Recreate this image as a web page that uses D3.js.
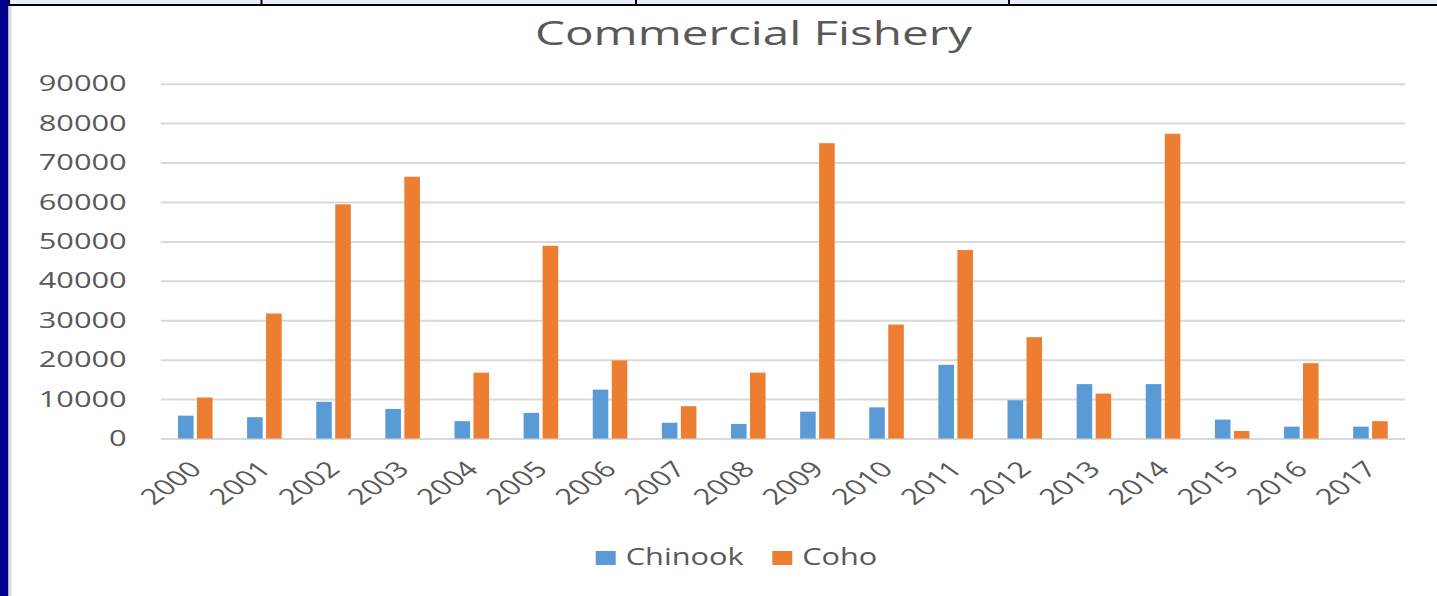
<!DOCTYPE html>
<html>
<head>
<meta charset="utf-8">
<script src="https://cdn.jsdelivr.net/npm/d3@7"></script>
<style>
  body { margin: 0; background: #fff; }
  text { font-family: "Open Sans", "Noto Sans", sans-serif; fill: #595959; }
</style>
</head>
<body>
<div id="chart"></div>
<script>
// data
var years = ["2000", "2001", "2002", "2003", "2004", "2005", "2006", "2007", "2008",
  "2009", "2010", "2011", "2012", "2013", "2014", "2015", "2016", "2017"];
var chinook = [5800, 5400, 9300, 7500, 4400, 6500, 12400, 4000, 3700,
  6800, 7900, 18700, 9700, 13800, 13800, 4800, 3000, 3000];
var coho = [10400, 31700, 59400, 66400, 16700, 48900, 19800, 8200, 16700,
  74900, 28900, 47800, 25700, 11400, 77300, 1900, 19100, 4400];
var seriesNames = ["Chinook", "Coho"];
var yTicks = [0, 10000, 20000, 30000, 40000, 50000, 60000, 70000, 80000, 90000];

var colors = { Chinook: "#5b9bd5", Coho: "#ed7d31" };
var S = 1.4; // the picture is stretched sideways, so text gets stretched too

var W = 1437, H = 596;
var margin = { top: 83.7, right: 32, bottom: 157.5, left: 160.7 };
var width = W - margin.left - margin.right,
  height = H - margin.top - margin.bottom;

var svg = d3.select("#chart")
  .append("svg")
  .attr("width", W)
  .attr("height", H);

// frame bits: blue border on the left, table strip on top
svg.append("rect").attr("x", 0).attr("y", 0).attr("width", W).attr("height", 5).attr("fill", "#e9edf5");
svg.append("rect").attr("x", 8).attr("y", 4).attr("width", W - 8).attr("height", 2).attr("fill", "#000");
[261.5, 636, 1009].forEach(function (x) {
  svg.append("rect").attr("x", x - 1).attr("y", 0).attr("width", 2).attr("height", 5).attr("fill", "#000");
});
svg.append("rect").attr("x", 8).attr("y", 0).attr("width", 2).attr("height", 6).attr("fill", "#000");
svg.append("rect").attr("x", 0).attr("y", 0).attr("width", 8.5).attr("height", H).attr("fill", "#00008b");
svg.append("rect").attr("x", 8.5).attr("y", 6).attr("width", 3).attr("height", H - 6).attr("fill", "#dcdcdc");

// title
svg.append("text")
  .attr("x", 753.5)
  .attr("y", 45)
  .attr("text-anchor", "middle")
  .attr("textLength", 437)
  .attr("lengthAdjust", "spacingAndGlyphs")
  .style("font-size", "32px")
  .text("Commercial Fishery");

var g = svg.append("g")
  .attr("transform", "translate(" + margin.left + "," + margin.top + ")");

// scales
var x = d3.scaleBand()
  .domain(years)
  .range([0, width])
  .padding(0);

var x1 = d3.scaleBand()
  .domain(seriesNames)
  .range([x.bandwidth() * 0.25, x.bandwidth() * 0.75])
  .paddingInner(0.18);

var y = d3.scaleLinear()
  .domain([0, 90000])
  .range([height, 0]);

// y axis with gridlines
var yAxis = g.append("g")
  .call(d3.axisLeft(y).tickValues(yTicks).tickSize(-width).tickFormat(d3.format("d")));
yAxis.select(".domain").remove();
yAxis.selectAll("line").attr("stroke", "#d9d9d9").attr("stroke-width", 2);
yAxis.selectAll("text")
  .attr("x", -34 / S)
  .attr("transform", "scale(" + S + ",1)")
  .style("font-size", "22px")
  .style("fill", "#595959");

// x axis, rotated labels
var xAxis = g.append("g")
  .attr("transform", "translate(0," + height + ")")
  .call(d3.axisBottom(x).tickSize(0));
xAxis.select(".domain").remove();
xAxis.selectAll("text")
  .attr("x", 0)
  .attr("y", 0)
  .attr("dy", 0)
  .attr("text-anchor", "end")
  .attr("transform", "translate(8,32) scale(" + S + ",1) rotate(-45)")
  .style("font-size", "22px")
  .style("fill", "#595959");

// bars
var rows = years.map(function (yr, i) {
  return { year: yr, Chinook: chinook[i], Coho: coho[i] };
});

var groups = g.selectAll(".yr")
  .data(rows)
  .enter()
  .append("g")
  .attr("class", "yr")
  .attr("transform", function (d) { return "translate(" + x(d.year) + ",0)" });

groups.selectAll("rect")
  .data(function (d) { return seriesNames.map(function (k) { return { key: k, value: d[k] } }) })
  .enter()
  .append("rect")
  .attr("x", function (d) { return x1(d.key) })
  .attr("y", function (d) { return y(d.value) })
  .attr("width", x1.bandwidth())
  .attr("height", function (d) { return y(0) - y(d.value) })
  .attr("fill", function (d) { return colors[d.key] });

// legend
var legendPos = [{ box: 595.7, text: 625.7, len: 118 }, { box: 772.3, text: 802.3, len: 75 }];
var legend = svg.selectAll(".legend")
  .data(seriesNames)
  .enter()
  .append("g")
  .attr("class", "legend");
legend.append("rect")
  .attr("x", function (d, i) { return legendPos[i].box })
  .attr("y", 551)
  .attr("width", 20)
  .attr("height", 14)
  .attr("fill", function (d) { return colors[d] });
legend.append("text")
  .attr("x", function (d, i) { return legendPos[i].text })
  .attr("y", 565)
  .attr("textLength", function (d, i) { return legendPos[i].len })
  .attr("lengthAdjust", "spacingAndGlyphs")
  .style("font-size", "23px")
  .text(function (d) { return d });
</script>
</body>
</html>
